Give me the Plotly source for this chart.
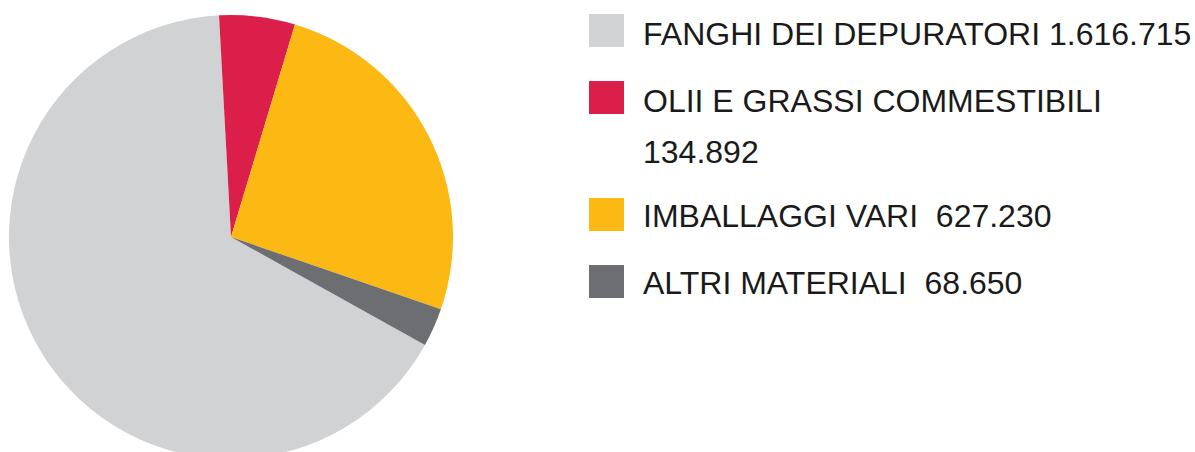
import plotly.graph_objects as go

# Waste quantities by category
categories = ["FANGHI DEI DEPURATORI", "OLII E GRASSI COMMESTIBILI", "IMBALLAGGI VARI", "ALTRI MATERIALI"]
values = [1616715, 134892, 627230, 68650]
value_labels = ["1.616.715", "134.892", "627.230", "68.650"]
colors = ["#D1D2D4", "#DC1F4A", "#FCB813", "#6D6E71"]

W, H = 1195, 474


def px_x(x):
    return x / W


def px_y(y):
    return 1 - y / H


# Pie geometry in pixels: center (231, 237), radius 222
cx, cy, r = 231, 237, 222

fig = go.Figure(
    go.Pie(
        labels=categories,
        values=values,
        marker=dict(colors=colors, line=dict(width=0)),
        sort=False,
        direction="clockwise",
        rotation=119.1,
        textinfo="none",
        hoverinfo="label+value",
        domain=dict(x=[px_x(cx - r), px_x(cx + r)], y=[px_y(cy + r), px_y(cy - r)]),
        showlegend=False,
    )
)

# Custom legend: colour squares and labels
square_tops = [14, 81, 198, 265]
text_rows = [
    [(categories[0] + " " + value_labels[0], 34)],
    [(categories[1], 101), (value_labels[1], 152)],
    [(categories[2] + "  " + value_labels[2], 216)],
    [(categories[3] + "  " + value_labels[3], 283)],
]
shapes = []
annotations = []
for i, col in enumerate(colors):
    top = square_tops[i]
    shapes.append(dict(
        type="rect", xref="paper", yref="paper",
        x0=px_x(589), x1=px_x(624), y0=px_y(top + 33), y1=px_y(top),
        fillcolor=col, line=dict(width=0),
    ))
    for txt, yc in text_rows[i]:
        annotations.append(dict(
            text=txt, xref="paper", yref="paper",
            x=px_x(641), y=px_y(yc), xanchor="left", yanchor="middle",
            showarrow=False,
            font=dict(family="Liberation Sans, Arial, sans-serif", size=32, color="#1a1a1a"),
        ))

fig.update_layout(
    width=W, height=H,
    margin=dict(l=0, r=0, t=0, b=0),
    paper_bgcolor="white", plot_bgcolor="white",
    shapes=shapes, annotations=annotations,
)

fig.write_html(
    "out.html",
    post_script="document.body.style.overflow='hidden';document.documentElement.style.overflow='hidden';document.body.style.margin='0';",
)
